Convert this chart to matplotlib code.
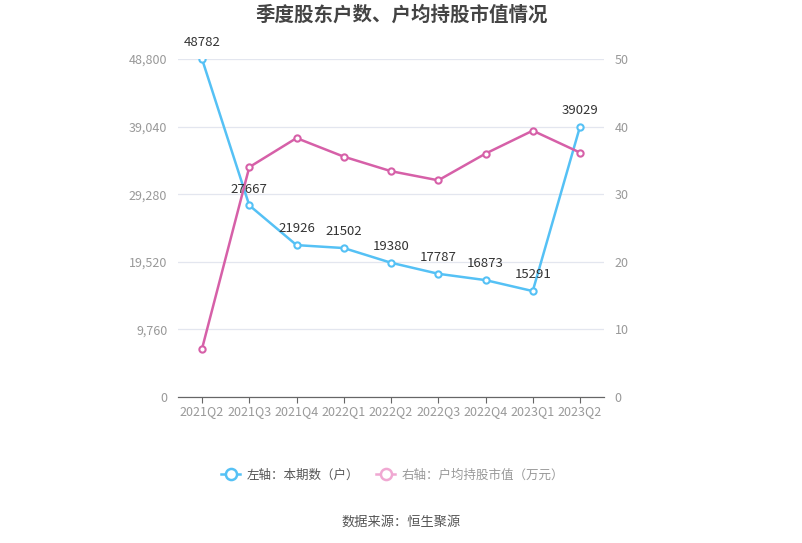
import numpy as np
import matplotlib
matplotlib.use("Agg")
import matplotlib.pyplot as plt
from matplotlib.lines import Line2D

plt.rcParams['font.family'] = ['Noto Sans CJK SC', 'DejaVu Sans']

# --- Data ---
quarters = ["2021Q2", "2021Q3", "2021Q4", "2022Q1", "2022Q2",
            "2022Q3", "2022Q4", "2023Q1", "2023Q2"]
holders = [48782, 27667, 21926, 21502, 19380, 17787, 16873, 15291, 39029]
avg_value = [7.15, 34.0, 38.3, 35.55, 33.4, 32.05, 36.0, 39.4, 36.15]
left_ticks = [0, 9760, 19520, 29280, 39040, 48800]
right_ticks = [0, 10, 20, 30, 40, 50]

blue = "#55c1f5"
pink = "#d660a8"

fig = plt.figure(figsize=(8.03, 5.43), dpi=100)
ax = fig.add_axes([0.2222, 0.2689, 0.5295, 0.6225])
ax2 = ax.twinx()

x = np.arange(len(quarters))

ax.plot(x, holders, color=blue, lw=1.8, marker='o', ms=4.5,
        mfc='white', mec=blue, mew=1.5, zorder=5)
ax2.plot(x, avg_value, color=pink, lw=1.8, marker='o', ms=4.5,
         mfc='white', mec=pink, mew=1.5, zorder=5)

# labels on top of both lines
for xi, v in zip(x, holders):
    ax2.annotate(str(v), (xi, v), xycoords=ax.transData, xytext=(0, 7),
                 textcoords='offset points', ha='center', va='bottom',
                 fontsize=9.5, color='#333333', zorder=10)

ax.set_xlim(-0.5, len(quarters) - 0.5)
ax.set_ylim(0, 48800)
ax2.set_ylim(0, 50)
ax.set_xticks(x)
ax.set_xticklabels(quarters)
ax.set_yticks(left_ticks)
ax.set_yticklabels([f"{t:,}" for t in left_ticks])
ax2.set_yticks(right_ticks)

ax.grid(axis='y', color='#e3e6ef', lw=0.9)
ax.set_axisbelow(True)
for a in (ax, ax2):
    for s in ('top', 'left', 'right'):
        a.spines[s].set_visible(False)
    a.spines['bottom'].set_color('#666666')
ax.tick_params(axis='y', length=0, labelsize=9, labelcolor='#999999', pad=8)
ax2.tick_params(axis='y', length=0, labelsize=9, labelcolor='#999999', pad=8)
ax.tick_params(axis='x', length=4, color='#666666', labelsize=9,
               labelcolor='#999999', pad=2)

fig.text(0.5, 0.973, "季度股东户数、户均持股市值情况", ha='center', va='center',
         fontsize=14, fontweight='bold', color='#444444')

handles = [
    Line2D([], [], color=blue, lw=1.8, marker='o', ms=8, mfc='white', mec=blue, mew=1.8),
    Line2D([], [], color='#f0a8d2', lw=1.8, marker='o', ms=8, mfc='white', mec='#f0a8d2', mew=1.8),
]
leg = fig.legend(handles, ["左轴：本期数（户）", "右轴：户均持股市值（万元）"],
                 loc='center', bbox_to_anchor=(0.489, 0.125), ncol=2, frameon=False,
                 fontsize=9, handlelength=1.5, columnspacing=1.4, handletextpad=0.5)
leg.get_texts()[0].set_color('#555555')
leg.get_texts()[1].set_color('#999999')

fig.text(0.5, 0.038, "数据来源：恒生聚源", ha='center', va='center',
         fontsize=9.5, color='#555555')

fig.savefig("out.png", dpi=100)
